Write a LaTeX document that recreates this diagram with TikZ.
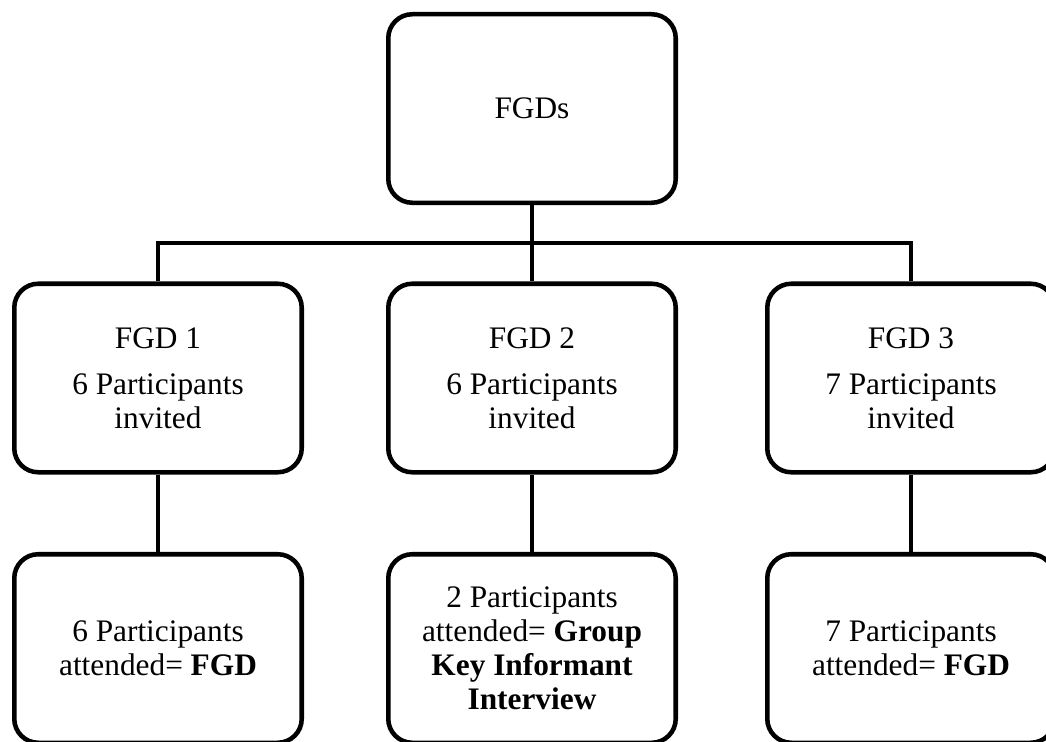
\documentclass[tikz,border=0pt]{standalone}
\usepackage{fontspec}
\setmainfont{Liberation Serif}
\begin{document}
\begin{tikzpicture}[x=0.75pt, y=-0.75pt, line width=3.4pt,
	every box/.style={draw, rounded corners=18pt, minimum width=215.6pt, minimum height=141.4pt,
		inner sep=0pt, align=center, font=\fontsize{23.5}{25.5}\selectfont}]
\useasboundingbox (0,0) rectangle (1046,742);
\clip (0,0) rectangle (1046,742);

\node [every box] (fgds) at (532,108.5) {FGDs};

\foreach \n/\m/\x in {1/6/158, 2/6/532, 3/7/911}
	\node [every box] (fgd-\n) at (\x,378) {FGD \n\\[9pt]\m{} Participants\\invited};

\foreach \n/\x/\t in {1/158/{6 Participants\\attended= \textbf{FGD}},
		2/532/{2 Participants\\attended= \textbf{Group}\\\textbf{Key Informant}\\\textbf{Interview}},
		3/911/{7 Participants\\attended= \textbf{FGD}}}
	\node [every box] (att-\n) at (\x,648.5) {\t};

%drawing part
\coordinate (bar) at (532,243);
\draw (fgds) -- (bar);
\draw (fgd-1.north) |- (bar) -| (fgd-3.north);
\draw (fgd-2) -- (bar);

\foreach \n in {1,2,3}
	\draw (fgd-\n) -- (att-\n);

\end{tikzpicture}
\end{document}
